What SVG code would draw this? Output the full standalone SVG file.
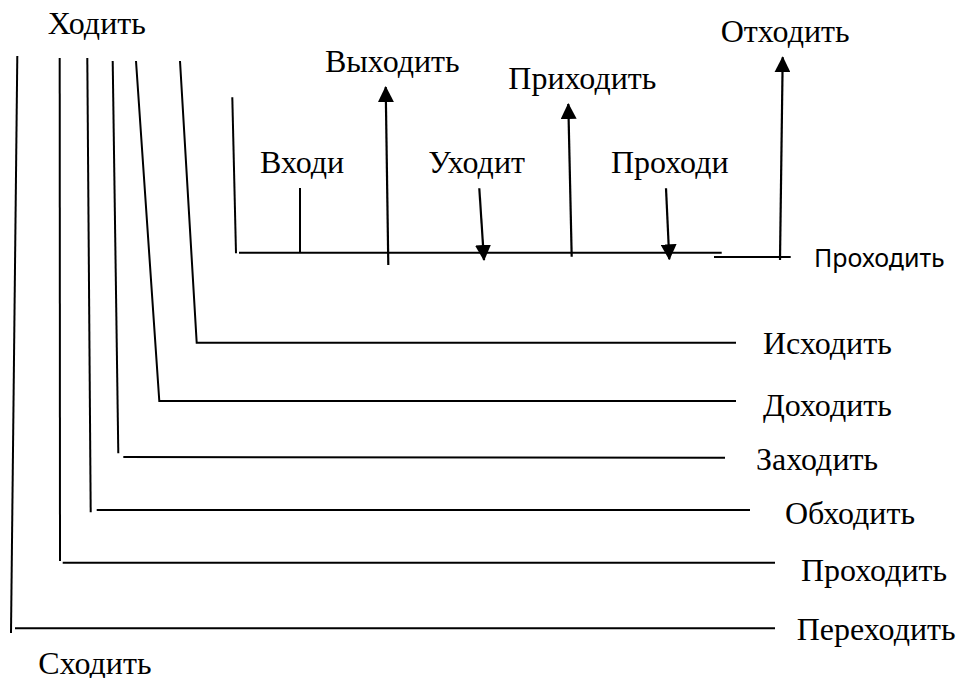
<svg xmlns="http://www.w3.org/2000/svg" width="960" height="678" viewBox="0 0 960 678">
<style>
.ln{fill:none;stroke:#000;stroke-width:2;stroke-linecap:butt}
.ar{fill:none;stroke:#000;stroke-width:2.2}
.t{font-family:"Liberation Serif","Times New Roman",serif;font-size:32px;fill:#000}
.s{font-family:"Noto Sans","DejaVu Sans",sans-serif;font-size:25px;fill:#000}
</style>
<defs>
<marker id="ah" viewBox="0 0 16 16" refX="15" refY="8" markerWidth="16" markerHeight="16" markerUnits="userSpaceOnUse" orient="auto">
<path d="M0,0 L16,8 L0,16 z" fill="#000"/>
</marker>
</defs>
<rect width="960" height="678" fill="#fff"/>
<g id="connectors">
<path class="ln" d="M17.3,56 L11,633"/>
<path class="ln" d="M15,628.3 L775,628.3"/>
<path class="ln" d="M59.7,58 L60,561"/>
<path class="ln" d="M62.7,562.7 L775,562.7"/>
<path class="ln" d="M87.3,58 L90.7,512.3"/>
<path class="ln" d="M96.7,510 L750,510"/>
<path class="ln" d="M112.7,61 L118.3,453.3"/>
<path class="ln" d="M123.3,457 L725,457.7"/>
<path class="ln" d="M136,61 L159.3,401 L736,401"/>
<path class="ln" d="M180,61 L196.7,342.7 L736,342.7"/>
<path class="ln" d="M232.3,97.3 L236,253.3"/>
<path class="ln" d="M239,252.7 L721.7,252.7"/>
<path class="ln" d="M300,188 L300,252.7"/>
<path class="ln" d="M714,257 L790.7,257"/>
<path class="ar" d="M388.3,265 L385.7,87" marker-end="url(#ah)"/>
<path class="ar" d="M479.3,188.3 L484,260" marker-end="url(#ah)"/>
<path class="ar" d="M571.7,256.7 L568.3,104" marker-end="url(#ah)"/>
<path class="ar" d="M666,188.3 L669.3,259.3" marker-end="url(#ah)"/>
<path class="ar" d="M780,260 L782.7,57.3" marker-end="url(#ah)"/>
</g>
<g id="n-hodit"><text class="t" x="47.7" y="34.3">Ходить</text></g>
<g id="n-vyhodit"><text class="t" x="325" y="72.3">Выходить</text></g>
<g id="n-vhodi"><text class="t" x="260" y="173.3">Входи</text></g>
<g id="n-uhodit"><text class="t" x="428.3" y="173.3">Уходит</text></g>
<g id="n-prihodit"><text class="t" x="508.3" y="88.5">Приходить</text></g>
<g id="n-prohodi"><text class="t" x="611" y="172.7">Проходи</text></g>
<g id="n-othodit"><text class="t" x="720.7" y="42.3">Отходить</text></g>
<g id="n-prohodit-sans"><text class="s" x="814" y="266.5">Проходить</text></g>
<g id="n-ishodit"><text class="t" x="763" y="354">Исходить</text></g>
<g id="n-dohodit"><text class="t" x="763" y="416">Доходить</text></g>
<g id="n-zahodit"><text class="t" x="756" y="470">Заходить</text></g>
<g id="n-obhodit"><text class="t" x="785" y="524">Обходить</text></g>
<g id="n-prohodit"><text class="t" x="801" y="580.7">Проходить</text></g>
<g id="n-perehodit"><text class="t" x="796.7" y="640">Переходить</text></g>
<g id="n-shodit"><text class="t" x="38.3" y="674">Сходить</text></g>
</svg>
